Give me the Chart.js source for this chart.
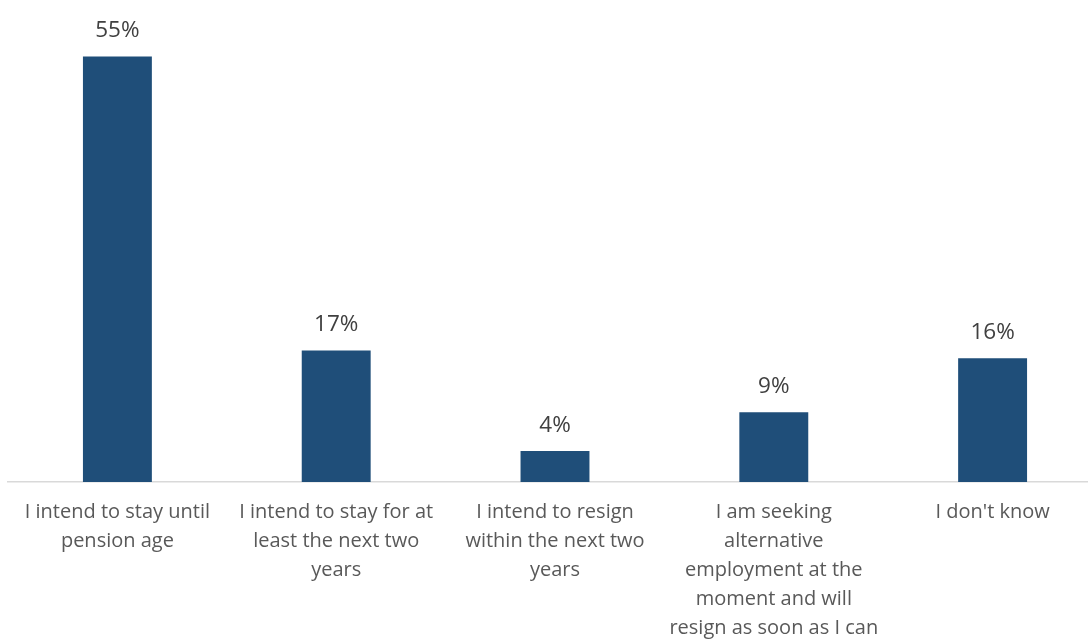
<!DOCTYPE html>
<html><head><meta charset="utf-8">
<script src="https://cdn.jsdelivr.net/npm/chart.js@4"></script>
<style>html,body{margin:0;padding:0;background:#fff;overflow:hidden;width:1088px;height:639px}#wrap{width:1102px;height:639px}</style>
</head><body><div id="wrap"><canvas id="c"></canvas></div>
<script>
const categories = [
  ["I intend to stay until", "pension age"],
  ["I intend to stay for at", "least the next two", "years"],
  ["I intend to resign", "within the next two", "years"],
  ["I am seeking", "alternative", "employment at the", "moment and will", "resign as soon as I can"],
  ["I don't know"]
];
const values = [55, 17, 4, 9, 16];
const valueLabels = ["55%", "17%", "4%", "9%", "16%"];

const dataLabelPlugin = {
  id: 'dl',
  afterDatasetsDraw(chart) {
    const ctx = chart.ctx;
    const meta = chart.getDatasetMeta(0);
    ctx.save();
    ctx.font = '22.5px "Open Sans"';
    ctx.fillStyle = '#404040';
    ctx.textAlign = 'center';
    ctx.textBaseline = 'alphabetic';
    meta.data.forEach((bar, i) => {
      ctx.fillText(valueLabels[i], bar.x, bar.y - 19);
    });
    ctx.restore();
  }
};

new Chart(document.getElementById('c'), {
  type: 'bar',
  data: {
    labels: categories,
    datasets: [{ data: values, backgroundColor: '#1F4E79', borderWidth: 0,
      categoryPercentage: 1, barPercentage: 0.315 }]
  },
  options: {
    responsive: true, maintainAspectRatio: false, animation: false,
    layout: { padding: { left: 8, right: 0, top: 10, bottom: -20 } },
    plugins: { legend: { display: false }, tooltip: { enabled: false } },
    scales: {
      x: {
        grid: { display: false, drawTicks: false },
        border: { display: true, color: '#D9D9D9', width: 1.5 },
        ticks: { color: '#595959', font: { family: 'Open Sans', size: 20, lineHeight: 1.45 },
          maxRotation: 0, autoSkip: false, padding: 16 }
      },
      y: { display: false, min: 0, max: 61 }
    }
  },
  plugins: [dataLabelPlugin]
});
</script></body></html>
